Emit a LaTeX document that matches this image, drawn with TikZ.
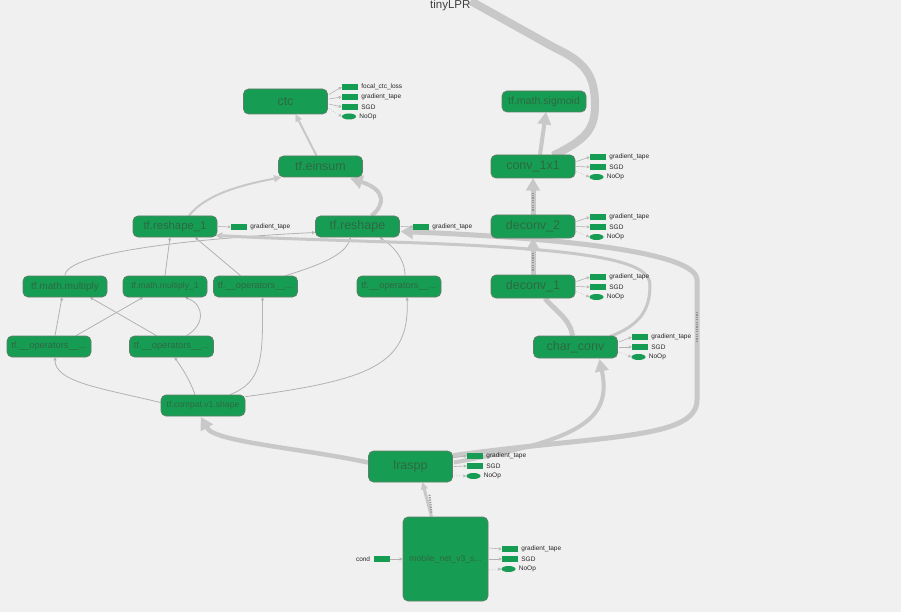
\documentclass[tikz,border=0pt]{standalone}
\usepackage{fontspec}
\setmainfont{Liberation Sans}
\usetikzlibrary{arrows.meta,calc,shapes.geometric}
\pgfdeclarelayer{bgl}
\pgfdeclarelayer{edgel}
\pgfsetlayers{bgl,edgel,main}
\definecolor{bg}{RGB}{240,240,240}
\definecolor{ngreen}{RGB}{23,157,83}
\definecolor{nborder}{RGB}{95,125,105}
\definecolor{ntext}{RGB}{45,105,65}
\definecolor{ethick}{RGB}{200,200,200}
\definecolor{ethin}{RGB}{178,178,178}
\definecolor{estack}{RGB}{150,150,150}
\tikzset{
  opnode/.style={draw=nborder, line width=0.7pt, fill=ngreen, rounded corners=5pt,
    inner sep=0pt, text=ntext, minimum width=84pt, minimum height=21pt},
  fs/.style={font=\fontsize{#1}{#1}\selectfont},
  auxbox/.style={fill=ngreen, draw=none, minimum width=16pt, minimum height=6pt, inner sep=0pt},
  auxell/.style={ellipse, fill=ngreen, draw=none, minimum width=14pt, minimum height=6pt, inner sep=0pt},
  auxlabel/.style={font=\fontsize{6.5}{7}\selectfont, inner sep=0pt, text=black!85},
  auxedge/.style={draw=ethin, line width=0.6pt, -{Triangle[open,length=3pt,width=3pt]}},
  auxdot/.style={auxedge, dotted},
  thickedge/.style={draw=ethick, line width=#1},
  thinedge/.style={draw=ethin, line width=0.8pt, -{Triangle[length=3pt,width=3pt]}},
  bigtip/.style={-{Triangle[length=12pt,width=14pt,line width=0.1pt]}},
  midtip/.style={-{Triangle[length=7pt,width=7pt,line width=0.1pt]}},
  stackmark/.style={draw=estack, line width=2.5pt, dash pattern=on 1.2pt off 1.2pt},
}
\newcommand\auxout[6]{%
  \node[auxbox] (#1) at (#3,#4) {};
  \node[auxlabel, anchor=west] (#1t) at ($(#1.east)+(3,0)$) {#5};
  \draw[auxedge] ($(#2.east)+(1,#6)$) -- (#1.west);
}
\newcommand\auxnoop[5]{%
  \node[auxell] (#1) at (#3,#4) {};
  \node[auxlabel, anchor=west] (#1t) at ($(#1.east)+(3,0)$) {NoOp};
  \draw[auxdot] ($(#2.east)+(1,#5)$) -- (#1.west);
}
\begin{document}
\begin{tikzpicture}[x=1pt,y=-1pt]
\useasboundingbox (0,0) rectangle (901,612);
\begin{pgfonlayer}{bgl}
\fill[bg] (0,0) rectangle (901,612);
\end{pgfonlayer}

% title
\node[fs=11.5, text=black!75, anchor=base west, inner sep=0pt] (tiny) at (430,9) {tinyLPR};

% main nodes
\node[opnode, fs=12.5, minimum height=25pt] (ctc) at (285.5,101.5) {ctc};
\node[opnode, fs=12.5] (ein) at (320.5,166.5) {tf.einsum};
\node[opnode, fs=11.3] (rs1) at (175,226.5) {tf.reshape\_1};
\node[opnode, fs=12.5] (rs) at (357.5,226.5) {tf.reshape};
\node[opnode, fs=10.6] (sig) at (544,101.5) {tf.math.sigmoid};
\node[opnode, fs=12.5, minimum height=23pt] (conv) at (533,166.5) {conv\_1x1};
\node[opnode, fs=12.5, minimum height=23pt] (dc2) at (533,226.5) {deconv\_2};
\node[opnode, fs=12.5, minimum height=23pt] (dc1) at (533,286.5) {deconv\_1};
\node[opnode, fs=12.5, minimum height=22pt] (cc) at (575.5,347) {char\_conv};
\node[opnode, fs=10.1] (mul) at (65,286.5) {tf.math.multiply};
\node[opnode, fs=8.6] (mul1) at (165,286.5) {tf.math.multiply\_1};
\node[opnode, fs=9.3] (op3) at (255.5,286.5) {tf.\_\_operators\_\_...};
\node[opnode, fs=9.3] (op4) at (399,286.5) {tf.\_\_operators\_\_...};
\node[opnode, fs=9.3] (opL) at (49,346.5) {tf.\_\_operators\_\_...};
\node[opnode, fs=9.3] (opM) at (171.5,346.5) {tf.\_\_operators\_\_...};
\node[opnode, fs=8.6] (shape) at (203,405.5) {tf.compat.v1.shape};
\node[opnode, fs=12.5, minimum height=31pt] (lr) at (410.5,466.5) {lraspp};
\node[opnode, fs=8.6, minimum width=85pt, minimum height=84pt] (mob) at (445.5,559) {mobile\_net\_v3\_s...};

% side outputs
\auxout{ctcA}{ctc}{350}{87}{focal\_ctc\_loss}{-7}
\auxout{ctcB}{ctc}{350}{97}{gradient\_tape}{-2.5}
\auxout{ctcC}{ctc}{350}{107}{SGD}{2.5}
\auxnoop{ctcD}{ctc}{349}{116.5}{7}
\auxout{rsoneA}{rs1}{239}{227}{gradient\_tape}{0}
\auxout{rsA}{rs}{421}{227}{gradient\_tape}{0}
\auxout{convA}{conv}{598}{157}{gradient\_tape}{-5}
\auxout{convB}{conv}{598}{167}{SGD}{0}
\auxnoop{convC}{conv}{596.5}{177}{5}
\auxout{dctwoA}{dc2}{598}{217}{gradient\_tape}{-5}
\auxout{dctwoB}{dc2}{598}{227}{SGD}{0}
\auxnoop{dctwoC}{dc2}{596.5}{237}{5}
\auxout{dconeA}{dc1}{598}{277}{gradient\_tape}{-5}
\auxout{dconeB}{dc1}{598}{287}{SGD}{0}
\auxnoop{dconeC}{dc1}{596.5}{297}{5}
\auxout{ccA}{cc}{640}{337}{gradient\_tape}{-5}
\auxout{ccB}{cc}{640}{347}{SGD}{0}
\auxnoop{ccC}{cc}{638.5}{357}{5}
\auxout{lrA}{lr}{475}{456}{gradient\_tape}{-9}
\auxout{lrB}{lr}{475}{466}{SGD}{0}
\auxnoop{lrC}{lr}{473.5}{476}{9}
\auxout{mobA}{mob}{510}{549}{gradient\_tape}{-11}
\auxout{mobB}{mob}{510}{559}{SGD}{0}
\auxnoop{mobC}{mob}{508.5}{569}{11}
\node[auxbox] (cond) at (381.5,559) {};
\node[auxlabel, anchor=east] (condt) at ($(cond.west)+(-3,0)$) {cond};
\draw[auxedge] (cond.east) -- (mob.west);

\begin{pgfonlayer}{edgel}
% thin edges
\draw[thinedge] (mul.north) .. controls (65,252) and (200,238) .. ($(rs.west)+(0,6)$);
\draw[thinedge] (mul1.north) -- ($(rs1.south)+(-5,0)$);
\draw[thinedge] ($(op3.north)+(-15,0)$) -- ($(rs1.south)+(20,0)$);
\draw[thinedge] ($(op3.north)+(30,0)$) .. controls (320,265) and (345,255) .. ($(rs.south)+(-7,0)$);
\draw[thinedge] ($(op4.north)+(6,0)$) .. controls (405,258) and (392,245) .. ($(rs.south)+(22,0)$);
\draw[thinedge] ($(opL.north)+(6,0)$) -- ($(mul.south)+(-3,0)$);
\draw[thinedge] ($(opL.north)+(27,0)$) -- ($(mul1.south)+(-22,0)$);
\draw[thinedge] ($(opM.north)+(-15,0)$) -- ($(mul.south)+(25,0)$);
\draw[thinedge] ($(opM.north)+(15,0)$) .. controls (205,325) and (205,305) .. ($(mul1.south)+(20,0)$);
\draw[thinedge] ($(shape.west)+(0,-3)$) .. controls (100,388) and (55,382) .. ($(opL.south)+(6,0)$);
\draw[thinedge] ($(shape.north)+(-8,0)$) .. controls (190,380) and (182,368) .. ($(opM.south)+(3,0)$);
\draw[thinedge] ($(shape.north)+(27,0)$) .. controls (262,382) and (263,360) .. ($(op3.south)+(7,0)$);
\draw[thinedge] ($(shape.north east)+(0,2)$) .. controls (370,380) and (410,365) .. ($(op4.south)+(8,0)$);

% medium / thick edges
\draw[thickedge=2pt, midtip] ($(rs1.north)+(14,0)$) .. controls (205,195) and (240,185) .. ($(ein.south west)+(3,0)$);
\draw[thickedge=2pt, midtip] ($(ein.north)+(-4,0)$) -- ($(ctc.south)+(10,0)$);
\draw[thickedge=4pt, bigtip] ($(rs.north)+(14,0)$) .. controls (385,205) and (386,190) .. ($(ein.south)+(30,1)$);
\draw[thickedge=3pt, midtip] ($(cc.north east)+(-8,1)$) .. controls (640,325) and (650,310) .. (650,285)
   .. controls (650,262) and (600,250) .. (420,243) .. controls (330,240) and (260,238) .. ($(rs1.south east)+(-2,-2)$);
\draw[thickedge=5pt, bigtip] ($(lr.north east)+(0,5)$) .. controls (600,435) and (697,440) .. (697,400)
   -- (697,280) .. controls (697,252) and (560,238) .. ($(rs.east)+(1,5)$);
\draw[stackmark] (697,312) -- (697,342);
\draw[thickedge=4pt, bigtip] ($(lr.east)+(1,-4)$) .. controls (580,440) and (612,420) .. ($(cc.south)+(24,1)$);
\draw[thickedge=4.5pt, bigtip] ($(lr.west)+(0,-4)$) .. controls (300,448) and (215,442) .. ($(shape.south)+(-2,1)$);
\draw[thickedge=3pt, midtip] ($(mob.north)+(-14,0)$) -- ($(lr.south)+(12,0)$);
\draw[stackmark, line width=1.8pt] ($(mob.north)+(-14,-4)$) -- ($(mob.north)+(-16,-22)$);
\draw[thickedge=5pt, bigtip] (dc2.north) -- (conv.south);
\draw[stackmark] ($(dc2.north)+(0,-4)$) -- ($(dc2.north)+(0,-22)$);
\draw[thickedge=5pt, bigtip] (dc1.north) -- (dc2.south);
\draw[stackmark] ($(dc1.north)+(0,-4)$) -- ($(dc1.north)+(0,-22)$);
\draw[thickedge=5pt] ($(cc.north)+(-3,0)$) .. controls (570,318) and (552,308) .. ($(dc1.south)+(12,0)$);
\draw[thickedge=4pt, bigtip] ($(conv.north)+(7,0)$) -- ($(sig.south)+(2,0)$);
\draw[thickedge=8pt] ($(conv.north)+(20,1)$) .. controls (585,140) and (595,130) .. (595,105)
   .. controls (595,75) and (585,62) .. (555,48) -- ($(tiny.east)+(0,-5)$);
\end{pgfonlayer}
\end{tikzpicture}
\end{document}
